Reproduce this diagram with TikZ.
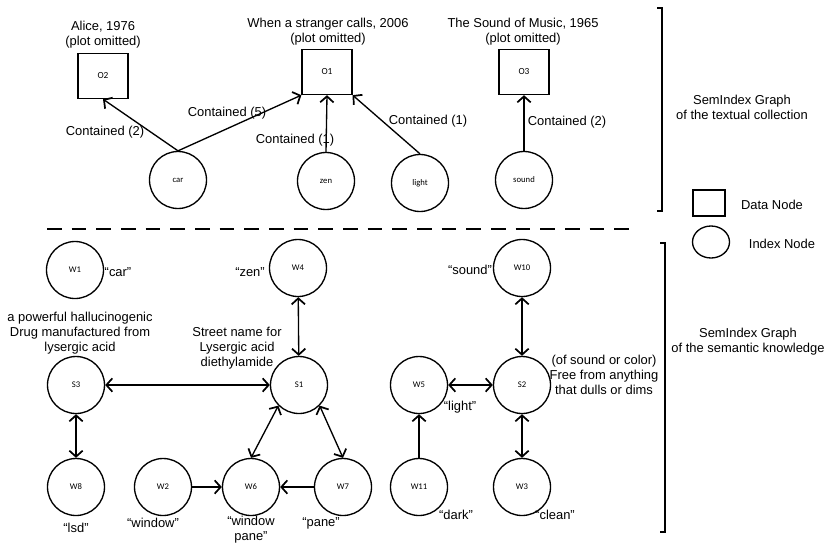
\documentclass[tikz,border=0pt]{standalone}
\usepackage{fontspec}
\setmainfont{Liberation Sans}
\newfontfamily\nodefont{Carlito}
\usetikzlibrary{arrows.meta,shapes.geometric}

\begin{document}
\begin{tikzpicture}[x=0.75pt,y=-0.75pt,
  lbl/.style={font=\fontsize{9.7}{11.2}\selectfont,align=center,inner sep=0pt},
  datanode/.style={rectangle,draw,line width=1pt,minimum width=37.5pt,minimum height=33.75pt,
                   font=\nodefont\fontsize{7}{8}\selectfont},
  idxnode/.style={circle,draw,line width=1pt,minimum size=42.75pt,inner sep=0pt,
                  font=\nodefont\fontsize{6.5}{8}\selectfont},
  arr/.style={-{Straight Barb[length=4.5pt,width=10pt,line width=1.3pt]},line width=1pt},
  darr/.style={{Straight Barb[length=4.5pt,width=10pt,line width=1.3pt]}-{Straight Barb[length=4.5pt,width=10pt,line width=1.3pt]},line width=1pt}]

  \useasboundingbox (0,0) rectangle (827,543);

  % textual collection
  \node[datanode] (O2) at (103,76) {O2};
  \node[datanode] (O1) at (327,72) {O1};
  \node[datanode] (O3) at (524,72) {O3};
  \node[lbl] (tO2) at (103,35) {Alice, 1976\\(plot omitted)};
  \node[lbl] (tO1) at (328,32) {When a stranger calls, 2006\\(plot omitted)};
  \node[lbl] (tO3) at (523,32) {The Sound of Music, 1965\\(plot omitted)};

  \node[idxnode] (car) at (178,180) {car};
  \node[idxnode] (zen) at (326,181) {zen};
  \node[idxnode] (light) at (420,183) {light};
  \node[idxnode] (sound) at (524,180) {sound};

  \draw[arr] (car.north) -- (O2.south);
  \draw[arr] (car.north) -- (O1.south west);
  \draw[arr] (zen.north) -- (O1.south);
  \draw[arr] (light.north) -- (O1.south east);
  \draw[arr] (sound.north) -- (O3.south);

  \node[lbl] (c1) at (105,132) {Contained (2)};
  \node[lbl] (c2) at (227,113) {Contained (5)};
  \node[lbl] (c3) at (295,140) {Contained (1)};
  \node[lbl] (c4) at (428,121) {Contained (1)};
  \node[lbl] (c5) at (567,122) {Contained (2)};

  \draw[line width=1.8pt] (657,8) -- (662,8) -- (662,211) -- (657,211);
  \node[lbl] (gText) at (742,107) {SemIndex Graph\\of the textual collection};

  % legend
  \node[rectangle,draw,line width=1pt,minimum width=24pt,minimum height=19.5pt] (legData) at (709,203) {};
  \node[lbl] (legDataT) at (772,205) {Data Node};
  \node[ellipse,draw,line width=1pt,minimum width=27.75pt,minimum height=24pt,inner sep=0pt] (legIdx) at (711,242) {};
  \node[lbl] (legIdxT) at (782,244) {Index Node};

  \draw[line width=2pt,dash pattern=on 11pt off 7.5pt] (47,229) -- (638,229);

  % semantic knowledge
  \node[idxnode] (W1) at (75,270) {W1};
  \node[idxnode] (W4) at (298,268) {W4};
  \node[idxnode] (S3) at (76,385) {S3};
  \node[idxnode] (S1) at (299,385) {S1};
  \node[idxnode] (W8) at (76,487) {W8};
  \node[idxnode] (W2) at (163,487) {W2};
  \node[idxnode] (W6) at (251,487) {W6};
  \node[idxnode] (W7) at (343,487) {W7};
  \node[idxnode] (W10) at (522,268) {W10};
  \node[idxnode] (W5) at (419,385) {W5};
  \node[idxnode] (S2) at (522,385) {S2};
  \node[idxnode] (W11) at (419,487) {W11};
  \node[idxnode] (W3) at (522,487) {W3};

  \node[lbl] (lW1) at (118,272) {“car”};
  \node[lbl] (lW4) at (250,272) {“zen”};
  \node[lbl] (lW8) at (76,528) {“lsd”};
  \node[lbl] (lW2) at (153,523) {“window”};
  \node[lbl] (lW6) at (251,530) {“window\\pane”};
  \node[lbl] (lW7) at (321,523) {“pane”};
  \node[lbl] (lW10) at (470,270) {“sound”};
  \node[lbl] (lW5) at (460,407) {“light”};
  \node[lbl] (lW11) at (456,515) {“dark”};
  \node[lbl] (lW3) at (555,515) {“clean”};

  \node[lbl] (dS3) at (80,333) {a powerful hallucinogenic\\Drug manufactured from\\lysergic acid};
  \node[lbl] (dS1) at (237,348) {Street name for\\Lysergic acid\\diethylamide};
  \node[lbl] (dS2) at (604,375) {(of sound or color)\\Free from anything\\that dulls or dims};

  \draw[darr] (S3) -- (S1);
  \draw[darr] (S3) -- (W8);
  \draw[darr] (W4) -- (S1);
  \draw[darr] (S1.225) -- (W6.north);
  \draw[darr] (S1.315) -- (W7.north);
  \draw[arr] (W2) -- (W6);
  \draw[arr] (W7) -- (W6);
  \draw[darr] (W10) -- (S2);
  \draw[darr] (W5) -- (S2);
  \draw[darr] (S2) -- (W3);
  \draw[arr] (W11) -- (W5);

  \draw[line width=1.8pt] (660,243) -- (665,243) -- (665,532) -- (660,532);
  \node[lbl] (gSem) at (748,342) {SemIndex Graph\\of the semantic knowledge};
\end{tikzpicture}
\end{document}
